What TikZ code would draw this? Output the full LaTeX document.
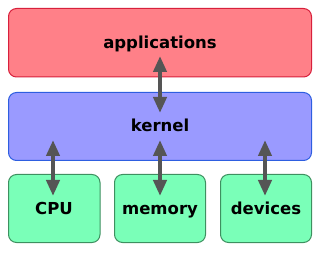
\documentclass[tikz,border=0pt]{standalone}
\usepackage{fontspec}
\setmainfont{DejaVu Sans}
\usetikzlibrary{arrows.meta}
\definecolor{appfill}{HTML}{FF8088}
\definecolor{appdraw}{HTML}{D8203C}
\definecolor{kerfill}{HTML}{9A9AFF}
\definecolor{kerdraw}{HTML}{2E5EE0}
\definecolor{hwfill}{HTML}{7AFFB8}
\definecolor{hwdraw}{HTML}{3E9060}
\definecolor{arr}{HTML}{555555}
\tikzset{
  layer/.style={rounded corners=8pt, line width=1pt},
  label/.style={anchor=base, inner sep=0pt, font=\fontsize{16.5}{18}\selectfont\bfseries},
  link/.style={arr, line width=4pt, {Triangle[width=13pt,length=16pt]}-{Triangle[width=13pt,length=16pt]}}
}
\begin{document}
\begin{tikzpicture}[x=1pt,y=-1pt]
\useasboundingbox (0,0) rectangle (320,253);
\draw[layer, fill=appfill, draw=appdraw] (8.5,8.5) rectangle (311.5,77);
\node[label] (app) at (160,48.5) {applications};
\draw[layer, fill=kerfill, draw=kerdraw] (8.5,92.5) rectangle (311.5,160.5);
\node[label] (ker) at (160,132) {kernel};
\draw[layer, fill=hwfill, draw=hwdraw] (8.5,174.5) rectangle (100,242.5);
\draw[layer, fill=hwfill, draw=hwdraw] (114.5,174.5) rectangle (205.5,242.5);
\draw[layer, fill=hwfill, draw=hwdraw] (220.5,174.5) rectangle (311.5,242.5);
\node[label] (cpu) at (54,214.5) {CPU};
\node[label] (mem) at (160,214.5) {memory};
\node[label] (dev) at (266,214.5) {devices};
\coordinate (a1) at (160,56);
\coordinate (a2) at (160,113);
\coordinate (c1) at (53,140);
\coordinate (c2) at (53,196);
\coordinate (m1) at (160,140);
\coordinate (m2) at (160,196);
\coordinate (d1) at (265,140);
\coordinate (d2) at (265,196);
\draw[link] (a1) -- (a2);
\draw[link] (c1) -- (c2);
\draw[link] (m1) -- (m2);
\draw[link] (d1) -- (d2);
\end{tikzpicture}
\end{document}
